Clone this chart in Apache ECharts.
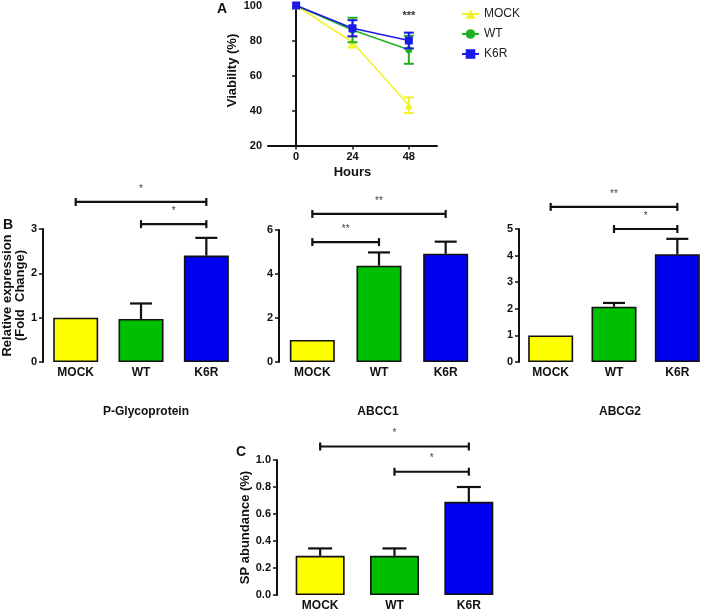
<!DOCTYPE html>
<html>
<head>
<meta charset="utf-8">
<script src="https://cdn.jsdelivr.net/npm/echarts@6/dist/echarts.min.js"></script>
<style>
html,body{margin:0;padding:0;background:#fff;}
#chart{width:709px;height:612px;}
</style>
</head>
<body>
<div id="chart"></div>
<script>
// ---- Panel A data ----
const hours = [0, 24, 48];
const viabilityTicks = [20, 40, 60, 80, 100];
const mockViability = [100, 79, 43];
const mockViabilityErr = [0, 3, 4.5];
const wtViability = [100, 86, 74.7];
const wtViabilityErr = [0, 7, 8];
const k6rViability = [100, 87, 80];
const k6rViabilityErr = [0, 4.6, 4.5];
const viabilitySignif = [[48, 94, '***']];

// ---- Panel B / C data ----
const groups = ['MOCK', 'WT', 'K6R'];
const pgpValues = [1.0, 0.97, 2.4];
const pgpErr = [0, 0.35, 0.4];
const abcc1Values = [1.0, 4.38, 4.92];
const abcc1Err = [0, 0.6, 0.55];
const abcg2Values = [1.0, 2.08, 4.05];
const abcg2Err = [0, 0.14, 0.58];
const spValues = [0.29, 0.29, 0.69];
const spErr = [0.055, 0.055, 0.11];

// significance brackets: [fromIndex, toIndex, yValue, label]
const pgpBrackets = [[0, 2, 3.61, '*'], [1, 2, 3.11, '*']];
const abcc1Brackets = [[0, 2, 6.73, '**'], [0, 1, 5.45, '**']];
const abcg2Brackets = [[0, 2, 5.83, '**'], [1, 2, 5.0, '*']];
const spBrackets = [[0, 2, 1.10, '*'], [1, 2, 0.913, '*']];

const lineColors = ['#F2F22A', '#22B022', '#1A1AE6'];
const barColors = ['#FFFF00', '#00BE00', '#0000F0'];
const FONT = 'Liberation Sans, Arial, sans-serif';

const chart = echarts.init(document.getElementById('chart'), null, {renderer: 'canvas'});

function pairs(xs, ys) { return xs.map((x, i) => [x, ys[i]]); }
function triples(xs, ys, es) { return xs.map((x, i) => [x, ys[i], es[i]]); }

function symErrSeries(data, color, z) {
  return {
    type: 'custom', xAxisIndex: 0, yAxisIndex: 0, z: z, silent: true,
    data: data,
    renderItem: function (params, api) {
      const x = api.value(0), y = api.value(1), e = api.value(2);
      if (!e) return null;
      const t = api.coord([x, y + e]), b = api.coord([x, y - e]);
      const hw = 5;
      const st = {stroke: color, lineWidth: 2};
      return {type: 'group', children: [
        {type: 'line', shape: {x1: t[0], y1: t[1], x2: b[0], y2: b[1]}, style: st},
        {type: 'line', shape: {x1: t[0] - hw, y1: t[1], x2: t[0] + hw, y2: t[1]}, style: st},
        {type: 'line', shape: {x1: b[0] - hw, y1: b[1], x2: b[0] + hw, y2: b[1]}, style: st}
      ]};
    }
  };
}

function upErrSeries(idx, values, errs, hw) {
  return {
    type: 'custom', xAxisIndex: idx, yAxisIndex: idx, z: 1, silent: true,
    data: values.map((v, i) => [i, v, errs[i]]),
    renderItem: function (params, api) {
      const i = api.value(0), v = api.value(1), e = api.value(2);
      if (!e) return null;
      const b = api.coord([i, v]), t = api.coord([i, v + e]);
      const st = {stroke: '#111', lineWidth: 2.2};
      return {type: 'group', children: [
        {type: 'line', shape: {x1: t[0], y1: t[1], x2: b[0], y2: b[1]}, style: st},
        {type: 'line', shape: {x1: t[0] - hw, y1: t[1], x2: t[0] + hw, y2: t[1]}, style: st}
      ]};
    }
  };
}

function bracketSeries(idx, brackets) {
  return {
    type: 'custom', xAxisIndex: idx, yAxisIndex: idx, z: 5, silent: true, clip: false,
    data: brackets,
    renderItem: function (params, api) {
      const a = api.coord([api.value(0), api.value(2)]);
      const b = api.coord([api.value(1), api.value(2)]);
      const label = brackets[params.dataIndex][3];
      const st = {stroke: '#111', lineWidth: 2.2};
      return {type: 'group', children: [
        {type: 'line', shape: {x1: a[0], y1: a[1], x2: b[0], y2: b[1]}, style: st},
        {type: 'line', shape: {x1: a[0], y1: a[1] - 4, x2: a[0], y2: a[1] + 4}, style: st},
        {type: 'line', shape: {x1: b[0], y1: b[1] - 4, x2: b[0], y2: b[1] + 4}, style: st},
        {type: 'text', x: (a[0] + b[0]) / 2, y: a[1] - 8,
         style: {text: label, fill: '#444', font: '10px ' + FONT, align: 'center', verticalAlign: 'bottom'}}
      ]};
    }
  };
}

function barSeries(idx, values, width) {
  return {
    type: 'bar', xAxisIndex: idx, yAxisIndex: idx, barWidth: width, z: 2, silent: true,
    data: values.map((v, i) => ({value: v, itemStyle: {color: barColors[i], borderColor: '#111', borderWidth: 1.6}}))
  };
}

const axisLineStyle = {show: true, lineStyle: {color: '#111', width: 2}};
const tickStyle = {show: true, length: 4, lineStyle: {color: '#111', width: 1.5}};
const tickLabel = {color: '#111', fontFamily: FONT, fontWeight: 'bold', fontSize: 11, margin: 6};

function catXAxis(gridIndex) {
  return {
    type: 'category', gridIndex: gridIndex, data: groups,
    axisLine: {show: false}, axisTick: {show: false},
    axisLabel: {color: '#111', fontFamily: FONT, fontWeight: 'bold', fontSize: 12, margin: 5}
  };
}
function valYAxis(gridIndex, max, interval, name, nameGap, offset) {
  return {
    type: 'value', gridIndex: gridIndex, min: 0, max: max, interval: interval, offset: offset || 0,
    axisLine: axisLineStyle, axisTick: tickStyle, splitLine: {show: false},
    axisLabel: Object.assign({}, tickLabel, interval < 1 ? {formatter: v => v.toFixed(1)} : {}),
    name: name, nameLocation: 'middle', nameGap: nameGap,
    nameTextStyle: {color: '#111', fontFamily: FONT, fontWeight: 'bold', fontSize: 13, lineHeight: 13}
  };
}

const option = {
  animation: false,
  backgroundColor: '#fff',
  title: [
    {text: 'A', left: 212, top: -3, textStyle: {fontFamily: FONT, fontWeight: 'bold', fontSize: 14, color: '#111'}},
    {text: 'B', left: -2, top: 213, textStyle: {fontFamily: FONT, fontWeight: 'bold', fontSize: 14, color: '#111'}},
    {text: 'C', left: 231, top: 440, textStyle: {fontFamily: FONT, fontWeight: 'bold', fontSize: 14, color: '#111'}},
    {text: 'P-Glycoprotein', left: 141, top: 401, textAlign: 'center', textStyle: {fontFamily: FONT, fontWeight: 'bold', fontSize: 12, color: '#111'}},
    {text: 'ABCC1', left: 373, top: 401, textAlign: 'center', textStyle: {fontFamily: FONT, fontWeight: 'bold', fontSize: 12, color: '#111'}},
    {text: 'ABCG2', left: 615, top: 401, textAlign: 'center', textStyle: {fontFamily: FONT, fontWeight: 'bold', fontSize: 12, color: '#111'}}
  ],
  legend: {
    left: 456, top: 3, orient: 'vertical', itemGap: 8, itemWidth: 17, itemHeight: 12,
    data: ['MOCK', 'WT', 'K6R'],
    textStyle: {fontFamily: FONT, fontSize: 12, color: '#222'}
  },
  grid: [
    {left: 268, top: 4.5, width: 169, height: 141},
    {left: 39, top: 229, width: 200, height: 133},
    {left: 279, top: 230, width: 200, height: 132},
    {left: 519, top: 229, width: 200, height: 133},
    {left: 283, top: 460, width: 223, height: 138}
  ],
  xAxis: [
    {
      type: 'value', gridIndex: 0, min: -12, max: 60,
      axisLine: axisLineStyle,
      axisTick: Object.assign({}, tickStyle, {customValues: hours}),
      axisLabel: Object.assign({}, tickLabel, {customValues: hours}),
      splitLine: {show: false},
      name: 'Hours', nameLocation: 'middle', nameGap: 20,
      nameTextStyle: {color: '#111', fontFamily: FONT, fontWeight: 'bold', fontSize: 13}
    },
    catXAxis(1), catXAxis(2), catXAxis(3), catXAxis(4)
  ],
  yAxis: [
    {
      type: 'value', gridIndex: 0, min: 20, max: 100, interval: 20,
      axisLine: axisLineStyle, axisTick: tickStyle, axisLabel: tickLabel, splitLine: {show: false},
      name: 'Viability (%)', nameLocation: 'middle', nameGap: 29,
      nameTextStyle: {color: '#111', fontFamily: FONT, fontWeight: 'bold', fontSize: 13, padding: [0, 0, 0, 10]}
    },
    valYAxis(1, 3, 1, 'Relative expression\n(Fold  Change)', 14),
    valYAxis(2, 6, 2, '', 20),
    valYAxis(3, 5, 1, '', 20),
    valYAxis(4, 1, 0.2, 'SP abundance (%)', 18, 6)
  ],
  series: [
    symErrSeries(triples(hours, mockViability, mockViabilityErr), lineColors[0], 3),
    symErrSeries(triples(hours, wtViability, wtViabilityErr), lineColors[1], 4),
    symErrSeries(triples(hours, k6rViability, k6rViabilityErr), lineColors[2], 5),
    {name: 'MOCK', type: 'line', xAxisIndex: 0, yAxisIndex: 0, z: 3, data: pairs(hours, mockViability),
     symbol: 'triangle', symbolSize: 8, itemStyle: {color: lineColors[0]}, lineStyle: {color: lineColors[0], width: 1.5}},
    {name: 'WT', type: 'line', xAxisIndex: 0, yAxisIndex: 0, z: 4, data: pairs(hours, wtViability),
     symbol: 'circle', symbolSize: 7, itemStyle: {color: lineColors[1]}, lineStyle: {color: lineColors[1], width: 1.5}},
    {name: 'K6R', type: 'line', xAxisIndex: 0, yAxisIndex: 0, z: 5, data: pairs(hours, k6rViability),
     symbol: 'rect', symbolSize: 8, itemStyle: {color: lineColors[2]}, lineStyle: {color: lineColors[2], width: 1.5}},
    {
      type: 'custom', xAxisIndex: 0, yAxisIndex: 0, z: 6, silent: true, clip: false,
      data: viabilitySignif,
      renderItem: function (params, api) {
        const p = api.coord([api.value(0), api.value(1)]);
        return {type: 'text', x: p[0], y: p[1],
          style: {text: viabilitySignif[params.dataIndex][2], fill: '#333', font: 'bold 11px ' + FONT, align: 'center', verticalAlign: 'middle'}};
      }
    },
    barSeries(1, pgpValues, 45), upErrSeries(1, pgpValues, pgpErr, 11), bracketSeries(1, pgpBrackets),
    barSeries(2, abcc1Values, 45), upErrSeries(2, abcc1Values, abcc1Err, 11), bracketSeries(2, abcc1Brackets),
    barSeries(3, abcg2Values, 45), upErrSeries(3, abcg2Values, abcg2Err, 11), bracketSeries(3, abcg2Brackets),
    barSeries(4, spValues, 49), upErrSeries(4, spValues, spErr, 12), bracketSeries(4, spBrackets)
  ]
};
chart.setOption(option);
</script>
</body>
</html>
